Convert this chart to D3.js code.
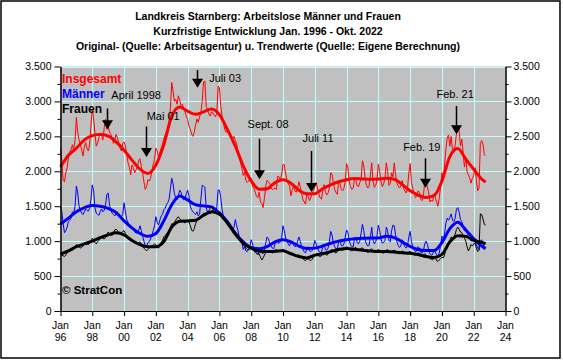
<!DOCTYPE html>
<html><head><meta charset="utf-8">
<script src="https://cdn.jsdelivr.net/npm/d3@7"></script>
<style>
body{margin:0;background:#fff}
svg{display:block}
text{font-family:"Liberation Sans", Arial, Helvetica, sans-serif}
</style>
</head><body>
<svg id="c" width="563" height="360"></svg>
<script>
// ---------- DATA ----------
const startYear = 1996; // monthly values from Jan 1996 to Oct 2022

const insgesamt = [
 2320,2150,1870,1850,1980,2050,2200,2280,2310,2380,2300,2450, // 1996
 2770,2560,2450,2390,2300,2220,2350,2410,2330,2290,2380,2650, // 1997
 2890,2750,2550,2360,2400,2480,2550,2520,2450,2620,2745,2600, // 1998
 2650,2560,2530,2470,2400,2450,2530,2480,2410,2330,2290,2400, // 1999
 2420,2360,2250,2120,2060,1950,2090,2050,1980,2020,2060,2150, // 2000
 2180,2070,1980,1850,1740,1780,1880,1860,1900,1990,2100,2170, // 2001
 2330,2290,2200,2270,2330,2380,2460,2520,2560,2580,2700,2900, // 2002
 3270,3150,3000,3030,2960,3080,3020,2940,2960,2900,2850,2790, // 2003
 2740,2650,2600,2530,2500,2560,2660,2750,2700,2780,2840,3000, // 2004
 3280,3290,2930,2880,2820,2790,2850,2840,2800,2780,2830,3220, // 2005
 3200,2930,2790,2700,2600,2560,2570,2580,2520,2480,2470,2500, // 2006
 2440,2400,2290,2220,2120,2040,1940,1990,1870,1840,1860,1890, // 2007
 1900,1780,1760,1700,1640,1620,1700,1560,1540,1480,1620,1790, // 2008
 1870,1840,1830,1760,1740,1750,1760,1740,1930,1920,1880,1960, // 2009
 2100,2090,1960,1880,1820,1790,1650,1740,1790,1720,1700,1750, // 2010
 1850,1780,1700,1600,1560,1530,1680,1640,1580,1620,1690,1720, // 2011
 1780,1840,1760,1680,1620,1600,1720,1810,1700,1660,1690,1760, // 2012
 1980,1960,1840,1740,1700,1670,1860,1830,1740,1720,1760,1850, // 2013
 2110,2050,1860,1780,1740,1760,1900,1870,1790,1780,1840,1900, // 2014
 2150,2080,1900,1800,1760,1780,1950,2120,1850,1770,1800,1880, // 2015
 2100,2000,1850,1780,1820,1900,2120,2000,1800,1830,1980,1920, // 2016
 2120,1950,1830,1790,1760,1790,1870,1760,1720,1690,1750,1980, // 2017
 2110,1840,1750,1690,1620,1640,1720,1700,1600,1580,1650,1850, // 2018
 1830,1780,1690,1560,1590,1570,1680,1620,1560,1500,1620,1790, // 2019
 1980,1890,2080,2320,2480,2520,2360,2500,2300,2270,2380,2540, // 2020
 2630,2580,2360,2460,2270,2060,2200,1990,1950,1900,1830,1900, // 2021
 1940,2050,1870,1720,1760,2400,2440,2390,2240,2220            // 2022
];

const maenner = [
 1500,1420,1250,1120,1150,1200,1280,1300,1330,1420,1400,1500, // 1996
 1790,1690,1500,1440,1400,1380,1420,1460,1440,1430,1470,1600, // 1997
 1805,1720,1480,1400,1380,1370,1420,1460,1420,1440,1520,1670, // 1998
 1690,1520,1450,1400,1380,1360,1400,1390,1350,1340,1350,1380, // 1999
 1550,1420,1310,1270,1220,1200,1190,1170,1130,1120,1110,1150, // 2000
 1220,1150,1070,1000, 940, 930, 980, 990,1030,1090,1150,1220, // 2001
 1350,1270,1230,1300,1360,1380,1450,1470,1520,1550,1600,1750, // 2002
 1900,1820,1680,1620,1590,1650,1730,1700,1620,1590,1600,1680, // 2003
 1730,1650,1500,1450,1420,1400,1380,1420,1360,1380,1600,1800, // 2004
 1790,1770,1480,1420,1400,1390,1420,1440,1420,1410,1480,1730, // 2005
 1730,1620,1450,1360,1300,1270,1240,1250,1200,1160,1140,1200, // 2006
 1310,1220,1150,1060,1020, 980, 880, 920, 860, 850, 880, 930, // 2007
 1020, 960, 880, 840, 820, 810, 850, 880, 830, 820, 870, 980, // 2008
 1060,1040, 960, 930, 900, 890, 960,1000, 980, 970, 990,1050, // 2009
 1220,1150,1040,1000, 960, 930, 990,1000, 940, 920, 930,1000, // 2010
 1060,1000, 930, 880, 850, 830, 900, 920, 860, 850, 870, 920, // 2011
 1010, 960, 900, 860, 840, 830, 920, 950, 880, 870, 900, 990, // 2012
 1140,1090, 980, 920, 890, 880, 990,1020, 940, 930, 960,1060, // 2013
 1160,1120,1010, 950, 920, 920,1040,1060, 980, 960,1000,1120, // 2014
 1240,1150,1020, 960, 930, 940,1060,1200,1010, 960, 990,1080, // 2015
 1230,1150,1030, 970, 980,1010,1200,1150,1010, 990,1150,1230, // 2016
 1220,1090, 990, 940, 910, 930,1020, 960, 920, 900, 930,1060, // 2017
 1140, 990, 920, 880, 850, 860, 920, 900, 840, 830, 860, 960, // 2018
 1000, 950, 880, 820, 800, 810, 870, 850, 800, 790, 830, 950, // 2019
 1070,1040,1100,1260,1330,1300,1340,1390,1300,1280,1330,1460, // 2020
 1480,1420,1310,1280,1220,1150,1190,1130,1060,1040,1000,1010, // 2021
 1040,1000, 950, 900, 880,1000,1020, 970, 920, 900            // 2022
];

const frauen = [
  820, 800, 790, 780, 800, 830, 860, 870, 880, 870, 890, 930, // 1996
  950, 940, 920, 900, 910, 930, 960, 980, 960, 950, 970,1000, // 1997
 1040,1020, 980, 960, 990,1010,1040,1060,1040,1030,1050,1090, // 1998
 1130,1110,1090,1080,1120,1160,1170,1150,1120,1110,1120,1140, // 1999
 1150,1110,1070,1040,1020,1000,1020,1010, 980, 960, 970, 980, // 2000
  990, 960, 920, 900, 880, 860, 880, 900, 920, 930, 940, 960, // 2001
  950, 920, 900, 940, 980,1010,1060,1080,1100,1120,1150,1200, // 2002
 1250,1240,1270,1300,1330,1350,1320,1300,1290,1270,1260,1280, // 2003
 1300,1280,1220,1160,1140,1180,1250,1300,1320,1310,1330,1360, // 2004
 1400,1390,1380,1400,1440,1470,1490,1460,1430,1420,1410,1400, // 2005
 1420,1410,1380,1340,1300,1270,1240,1220,1200,1170,1140,1130, // 2006
 1130,1110,1070,1040,1000, 970, 940, 930, 900, 880, 880, 890, // 2007
  900, 880, 860, 850, 830, 810, 820, 770, 730, 760, 800, 840, // 2008
  870, 860, 850, 840, 830, 840, 870, 880, 860, 850, 860, 870, // 2009
  880, 870, 850, 830, 820, 810, 830, 820, 800, 790, 790, 800, // 2010
  800, 790, 770, 750, 730, 720, 740, 750, 730, 720, 740, 770, // 2011
  800, 810, 800, 790, 780, 790, 820, 830, 810, 800, 810, 840, // 2012
  870, 880, 860, 840, 830, 850, 890, 900, 880, 870, 880, 900, // 2013
  920, 910, 890, 870, 860, 870, 900, 910, 880, 870, 880, 900, // 2014
  900, 890, 870, 850, 840, 850, 880, 890, 860, 850, 850, 870, // 2015
  880, 870, 850, 830, 830, 840, 870, 880, 850, 840, 850, 860, // 2016
  870, 860, 840, 820, 820, 830, 860, 850, 830, 820, 830, 850, // 2017
  850, 840, 820, 800, 800, 810, 830, 830, 800, 790, 800, 820, // 2018
  800, 790, 770, 750, 740, 730, 760, 770, 720, 710, 730, 750, // 2019
  770, 760, 800, 900, 950, 980,1010,1060,1040,1060,1100,1170, // 2020
 1200,1170,1130,1120,1080,1050,1000, 920, 860, 900, 950, 930, // 2021
  960, 970, 900, 850, 870,1390,1380,1320,1240,1230            // 2022
];

// trend values (half-yearly, Jan and Jul, last point Oct 2022)
const trendTimes = [
 1996,1996.5,1997,1997.5,1998,1998.5,1999,1999.5,2000,2000.5,2001,2001.5,2002,2002.5,
 2003,2003.5,2004,2004.5,2005,2005.5,2006,2006.5,2007,2007.5,2008,2008.5,2009,2009.5,
 2010,2010.5,2011,2011.5,2012,2012.5,2013,2013.5,2014,2014.5,2015,2015.5,2016,2016.5,
 2017,2017.5,2018,2018.5,2019,2019.5,2020,2020.5,2021,2021.5,2022,2022.5,2022.75
];
const trendInsgesamt = [
 2060,2230,2330,2450,2510,2525,2505,2420,2300,2160,2030,1970,2090,2380,
 2790,2920,2860,2815,2850,2890,2810,2600,2360,2077,1862,1743,1750,1838,
 1880,1830,1730,1680,1680,1750,1805,1850,1880,1895,1890,1885,1890,1900,
 1885,1810,1720,1660,1625,1650,1860,2210,2325,2175,2030,1890,1845
];
const trendMaenner = [
 1245,1330,1420,1480,1510,1500,1470,1410,1290,1190,1110,1070,1110,1290,
 1520,1648,1590,1520,1505,1490,1400,1280,1110, 990, 905, 890, 920, 990,
 1020, 990, 930, 895, 900, 930, 970,1000,1020,1035,1040,1045,1045,1070,
 1050, 990, 925, 880, 865, 865, 980,1180,1272,1160,1035, 930, 893
];
const trendFrauen = [
  815, 860, 920, 960,1000,1050,1090,1120,1090,1010, 950, 920, 920, 995,
 1200,1285,1290,1300,1370,1420,1385,1260,1100, 970, 900, 855, 850, 855,
  862, 820, 780, 760, 800, 820, 850, 880, 895, 885, 870, 860, 850, 850,
  845, 835, 825, 810, 780, 765, 810, 990,1078,1068,1012, 982, 965
];

const xTickYears  = [1996,1998,2000,2002,2004,2006,2008,2010,2012,2014,2016,2018,2020,2022,2024];
const xTickLabels = ["96","98","00","02","04","06","08","10","12","14","16","18","20","22","24"];
const yTickValues = [0,500,1000,1500,2000,2500,3000,3500];
const yTickLabels = ["0","500","1.000","1.500","2.000","2.500","3.000","3.500"];
const yMinorValues = [250,750,1250,1750,2250,2750,3250];

const titleLines = [
 "Landkreis Starnberg: Arbeitslose Männer und Frauen",
 "Kurzfristige Entwicklung Jan. 1996 - Okt. 2022",
 "Original- (Quelle: Arbeitsagentur) u. Trendwerte (Quelle: Eigene Berechnung)"
];
const seriesNames = ["Insgesamt","Männer","Frauen"];

// annotations: label, arrow time, arrow top value, arrow tip value, label start time, label baseline value
const annotations = [
 {label:"April 1998", t:1998.95, top:2900, tip:2600, lt:1999.2,  lv:3030},
 {label:"Mai 01",     t:2001.36, top:2640, tip:2205, lt:2001.42, lv:2727},
 {label:"Juli 03",    t:2004.57, top:3450, tip:3197, lt:2005.36, lv:3283},
 {label:"Sept. 08",   t:2008.50, top:2466, tip:1885, lt:2007.77, lv:2624},
 {label:"Juli 11",    t:2011.77, top:2290, tip:1704, lt:2011.23, lv:2419},
 {label:"Feb. 19",    t:2018.91, top:2186, tip:1765, lt:2017.56, lv:2290},
 {label:"Feb. 21",    t:2020.89, top:2935, tip:2530, lt:2019.66, lv:3053}
];

// ---------- DRAW ----------
const svg = d3.select("#c");
const W = 563, H = 360;
svg.append("rect").attr("width", W).attr("height", H).attr("fill", "#fff");
svg.append("rect").attr("x", 1).attr("y", 1).attr("width", 559).attr("height", 357)
   .attr("fill", "none").attr("stroke", "#000").attr("stroke-width", 1.5);

const x = d3.scaleLinear().domain([1996, 2024]).range([60.5, 505.5]);
const y = d3.scaleLinear().domain([0, 3500]).range([311, 66.5]);

// title
svg.append("g").selectAll("text").data(titleLines).join("text")
  .attr("x", 268).attr("y", (d, i) => 19.5 + i * 15)
  .attr("text-anchor", "middle").attr("font-size", "10.5px").attr("font-weight", "bold")
  .attr("fill", "#000").text(d => d);

// plot background
svg.append("rect").attr("x", x(1996)).attr("y", y(3500))
  .attr("width", x(2024) - x(1996)).attr("height", y(0) - y(3500)).attr("fill", "#c0c0c0");

// grid
const grid = svg.append("g").attr("stroke", "#c0ffff").attr("stroke-width", 1);
grid.selectAll("line.h").data(yTickValues.filter(v => v > 0)).join("line")
  .attr("x1", x(1996)).attr("x2", x(2024))
  .attr("y1", d => Math.round(y(d)) + 0.5).attr("y2", d => Math.round(y(d)) + 0.5);
grid.selectAll("line.v").data(xTickYears.filter(v => v > 1996 && v < 2024)).join("line")
  .attr("y1", y(0)).attr("y2", y(3500))
  .attr("x1", d => Math.round(x(d)) + 0.5).attr("x2", d => Math.round(x(d)) + 0.5);

// lines
const monthly = arr => arr.map((v, i) => [startYear + i / 12, v]);
const rawLine = d3.line().x(d => x(d[0])).y(d => y(d[1]));
const trendLine = d3.line().x(d => x(d[0])).y(d => y(d[1])).curve(d3.curveMonotoneX);
const trendPts = arr => arr.map((v, i) => [trendTimes[i], v]);

const series = [
  {raw: insgesamt, trend: trendInsgesamt, color: "#ff0000"},
  {raw: maenner,   trend: trendMaenner,   color: "#0000ff"},
  {raw: frauen,    trend: trendFrauen,    color: "#000000"}
];
const lines = svg.append("g");
series.forEach(s => {
  lines.append("path").datum(monthly(s.raw)).attr("d", rawLine)
    .attr("fill", "none").attr("stroke", s.color).attr("stroke-width", 1);
  lines.append("path").datum(trendPts(s.trend)).attr("d", trendLine)
    .attr("fill", "none").attr("stroke", s.color).attr("stroke-width", 3)
    .attr("stroke-linejoin", "round");
});

// axes
const fmtY = (d, i) => yTickLabels[yTickValues.indexOf(d)];
const leftAx = svg.append("g").attr("transform", `translate(${x(1996)},0)`)
  .call(d3.axisLeft(y).tickValues(yTickValues).tickFormat(fmtY).tickSize(6).tickSizeOuter(0).tickPadding(3));
svg.append("g").attr("transform", `translate(${x(1996)},0)`)
  .call(d3.axisLeft(y).tickValues(yMinorValues).tickFormat("").tickSize(3).tickSizeOuter(0));
const rightAx = svg.append("g").attr("transform", `translate(${x(2024)},0)`)
  .call(d3.axisRight(y).tickValues(yTickValues).tickFormat(fmtY).tickSize(6).tickSizeOuter(0).tickPadding(2));
svg.append("g").attr("transform", `translate(${x(2024)},0)`)
  .call(d3.axisRight(y).tickValues(yMinorValues).tickFormat("").tickSize(3).tickSizeOuter(0));
const botAx = svg.append("g").attr("transform", `translate(0,${y(0)})`)
  .call(d3.axisBottom(x).tickValues(xTickYears).tickFormat("").tickSize(5).tickSizeOuter(0));
svg.selectAll(".domain").attr("stroke", "#000");
svg.selectAll(".tick line").attr("stroke", "#000");
svg.selectAll(".tick text").attr("font-size", "10.5px").attr("fill", "#000")
   .attr("font-family", '"Liberation Sans", Arial, sans-serif');

const xl = svg.append("g").attr("font-size", "10.5px").attr("text-anchor", "middle");
xl.selectAll("text.m").data(xTickYears).join("text")
  .attr("x", d => x(d)).attr("y", 329).text("Jan");
xl.selectAll("text.y").data(xTickYears).join("text")
  .attr("x", d => x(d)).attr("y", 340.5).text((d, i) => xTickLabels[i]);

// legend
const legColors = ["#ff0000", "#0000ff", "#000000"];
svg.append("g").selectAll("text").data(seriesNames).join("text")
  .attr("x", 62).attr("y", (d, i) => 82.5 + i * 15)
  .attr("font-size", "12px").attr("font-weight", "bold")
  .attr("fill", (d, i) => legColors[i]).text(d => d);

svg.append("text").attr("x", 62).attr("y", 293.5)
  .attr("font-size", "11.5px").attr("font-weight", "bold").attr("fill", "#000").text("© StratCon");

// annotations
const ann = svg.append("g");
annotations.forEach(a => {
  const ax = Math.round(x(a.t)) + 0.5, ty = y(a.tip);
  ann.append("line").attr("x1", ax).attr("x2", ax).attr("y1", y(a.top)).attr("y2", ty - 4)
    .attr("stroke", "#000").attr("stroke-width", 1.5);
  ann.append("path").attr("d", `M${ax - 5.5},${ty - 9}L${ax + 5.5},${ty - 9}L${ax},${ty}Z`).attr("fill", "#000");
  ann.append("text").attr("x", x(a.lt)).attr("y", y(a.lv)).attr("font-size", "11px")
    .attr("fill", "#000").text(a.label);
});
</script>
</body></html>
